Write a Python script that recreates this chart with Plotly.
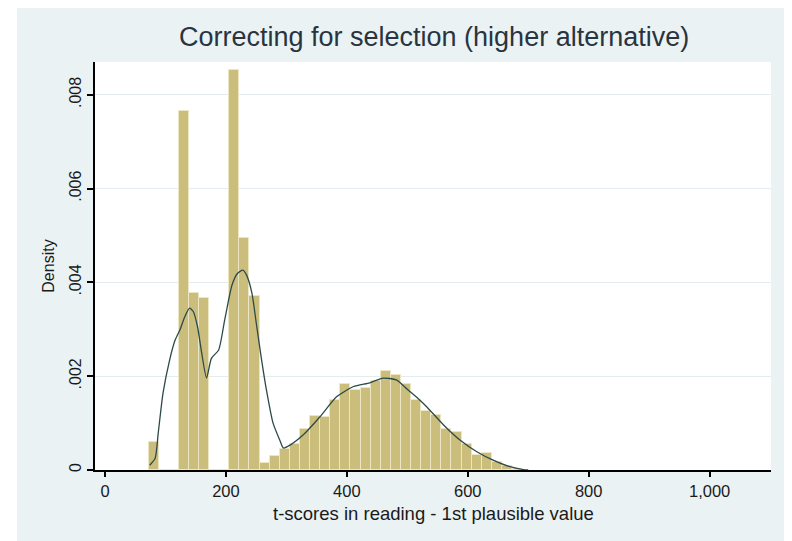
import plotly.graph_objects as go

# Histogram (density scale): first bin start, bin width, bar heights
bin_start = 72.0
bin_width = 16.7
bar_density = [
    0.0006, 0.0, 0.0, 0.00766, 0.00378, 0.00367, 0.0, 0.0,
    0.00853, 0.00495, 0.00371, 0.00016, 0.0003, 0.00045, 0.00055, 0.00088,
    0.00115, 0.00113, 0.0015, 0.00184, 0.0017, 0.00174, 0.0019, 0.00212,
    0.00202, 0.00183, 0.0015, 0.00125, 0.00118, 0.00088, 0.0008, 0.00055,
    0.00032, 0.00036, 0.00018, 0.00008, 0.00003,
]

# Kernel density curve
kde_x = [74, 83, 88, 96, 107, 116, 124, 132, 140, 146, 153, 160, 168, 176, 188,
         198, 210, 219, 228, 234, 243, 251, 259, 267, 278, 289, 295, 306, 328,
         356, 383, 411, 438, 460, 482, 500, 520, 532, 560, 587, 615, 642, 670,
         692, 700]
kde_y = [0.0001, 0.00025, 0.00078, 0.00164, 0.00235, 0.00277, 0.00299, 0.00327,
         0.00345, 0.00338, 0.00306, 0.00249, 0.00196, 0.00238, 0.00256, 0.0032,
         0.00394, 0.00419, 0.00426, 0.00416, 0.00377, 0.00306, 0.00235, 0.00171,
         0.001, 0.00064, 0.00047, 0.00053, 0.00075, 0.00114, 0.00156, 0.00178,
         0.00186, 0.00196, 0.00192, 0.00172, 0.0015, 0.00135, 0.00096, 0.00064,
         0.00039, 0.00021, 0.00007, 0.00001, 0.0]

x_tickvals = [0, 200, 400, 600, 800, 1000]
x_ticktext = ["0", "200", "400", "600", "800", "1,000"]
y_tickvals = [0, 0.002, 0.004, 0.006, 0.008]
y_ticktext = ["0", ".002", ".004", ".006", ".008"]

title_text = "Correcting for selection (higher alternative)"
x_title = "t-scores in reading - 1st plausible value"
y_title = "Density"

centers = [bin_start + bin_width * (i + 0.5) for i in range(len(bar_density))]

FONT = "Liberation Sans, Arial, sans-serif"
PANEL = "#EAF2F3"
TXT = "#1a1a1a"

fig = go.Figure()
fig.add_trace(go.Bar(
    x=centers, y=bar_density, width=bin_width,
    marker=dict(color="#CBBE7D", line=dict(color="#EDE6C2", width=1)),
    showlegend=False, hoverinfo="skip",
))
fig.add_trace(go.Scatter(
    x=kde_x, y=kde_y, mode="lines",
    line=dict(color="#2C4A48", width=1.3, shape="spline", smoothing=0.6),
    showlegend=False, hoverinfo="skip",
))

fig.update_layout(
    width=792, height=541,
    margin=dict(l=87, r=29, t=54, b=79),
    paper_bgcolor=PANEL, plot_bgcolor="white",
    bargap=0,
    font=dict(family=FONT, color=TXT),
    title=dict(text=title_text, x=0.538, xanchor="center", y=0.947, yanchor="middle",
               font=dict(family=FONT, size=27, color="#2a3440")),
    shapes=[
        dict(type="rect", xref="paper", yref="paper", x0=-0.3, x1=(9 - 87) / 676,
             y0=-0.3, y1=1.3, fillcolor="white", line=dict(width=0), layer="below"),
    ],
    annotations=[
        dict(text=x_title, xref="paper", yref="paper", x=0.5, y=-0.107,
             xanchor="center", yanchor="middle", showarrow=False,
             font=dict(family=FONT, size=18.5, color=TXT)),
    ],
    xaxis=dict(
        range=[-16.5, 1101.5], tickvals=x_tickvals, ticktext=x_ticktext,
        showgrid=False, zeroline=False, showline=True, linecolor="black", linewidth=1.5,
        ticks="outside", ticklen=5, tickcolor="black", tickwidth=1.5,
        tickfont=dict(size=16.5, color=TXT),
    ),
    yaxis=dict(
        range=[0, 0.0087], tickvals=y_tickvals, ticktext=y_ticktext, tickangle=-90,
        showgrid=True, gridcolor="#E3ECEE", gridwidth=1, zeroline=False,
        showline=True, linecolor="black", linewidth=1.5,
        ticks="outside", ticklen=6, tickcolor="black", tickwidth=1.5,
        tickfont=dict(size=16, color=TXT),
        title=dict(text=y_title, font=dict(size=16, color=TXT), standoff=8),
    ),
)

fig.write_html("out.html")
